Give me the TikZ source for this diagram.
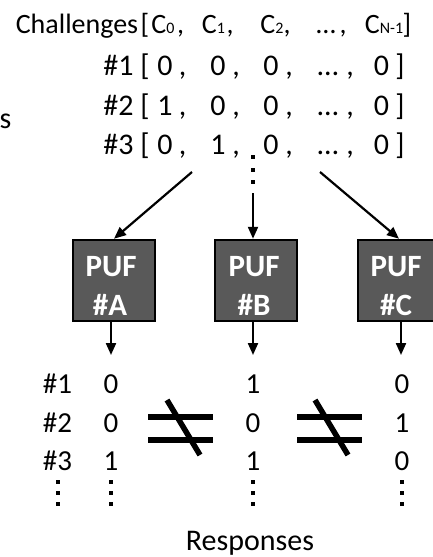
\documentclass[tikz,border=0pt]{standalone}
\usepackage{fontspec}
\setmainfont{Carlito}
\usetikzlibrary{arrows.meta,shapes.misc}
\newcommand{\setfs}[1]{\fontsize{#1}{#1}\selectfont}
\newcommand{\subidx}[1]{{\fontsize{16}{16}\selectfont #1}}
\definecolor{pufgray}{HTML}{595959}
\begin{document}
\begin{tikzpicture}[x=1pt,y=-1pt,
  hdr/.style={anchor=base,inner sep=0pt,font=\setfs{28}},
  chal/.style={anchor=base,inner sep=0pt,font=\setfs{30}},
  resp/.style={anchor=base,inner sep=0pt,font=\setfs{29}},
  pufbox/.style={chamfered rectangle,chamfered rectangle corners=north east,
    chamfered rectangle xsep=14pt,chamfered rectangle ysep=14pt,
    minimum width=82pt,minimum height=81pt,inner sep=0pt,
    draw=black,line width=2.5pt,fill=pufgray},
  puftxt/.style={anchor=base,inner sep=0pt,text=white,font=\bfseries\setfs{31}},
  flow/.style={line width=2.2pt,-{Triangle[length=12pt,width=10pt]}},
  neqbar/.style={line width=6pt},
  dotsq/.style={fill=black,minimum size=4pt,inner sep=0pt,draw=none}]
\useasboundingbox (0,0) rectangle (433,557);
\clip (0,0) rectangle (433,557);

% clipped word at the left edge
\node[anchor=base west,inner sep=0pt,font=\setfs{30}] (lefts) at (-0.5,128) {s};

% header line
\node[hdr] (hChal) at (77,33) {Challenges};
\node[hdr] (hLb) at (145,33) {[};
\node[hdr] (hC0) at (163,33) {C\subidx{0}};
\node[hdr] (hk0) at (180.5,33) {,};
\node[hdr] (hC1) at (213.5,33) {C\subidx{1}};
\node[hdr] (hk1) at (230,33) {,};
\node[hdr] (hC2) at (272,33) {C\subidx{2}};
\node[hdr] (hk2) at (287,33) {,};
\node[hdr] (hEl) at (326,33) {…};
\node[hdr] (hk3) at (343,33) {,};
\node[hdr] (hCN) at (384,33) {C\subidx{N-1}};
\node[hdr] (hRb) at (407,33) {]};

% challenge vectors
\foreach \r/\yb/\a/\b in {1/75/0/0, 2/115/1/0, 3/154/0/1} {
  \node[chal] (row\r lbl) at (118.5,\yb) {\#\r};
  \node[chal] (row\r lb) at (145,\yb) {[};
  \node[chal] (row\r c0) at (165,\yb) {\a};
  \node[chal] (row\r k0) at (182.5,\yb) {,};
  \node[chal] (row\r c1) at (218,\yb) {\b};
  \node[chal] (row\r k1) at (236,\yb) {,};
  \node[chal] (row\r c2) at (271,\yb) {0};
  \node[chal] (row\r k2) at (289,\yb) {,};
  \node[chal] (row\r el) at (328,\yb) {…};
  \node[chal] (row\r k3) at (350,\yb) {,};
  \node[chal] (row\r cn) at (381.5,\yb) {0};
  \node[chal] (row\r rb) at (400,\yb) {]};
}

% vertical ellipsis below the vectors
\foreach \i/\yy in {1/157,2/170,3/182}
  \node[dotsq] (vd\i) at (253,\yy) {};

% PUF instances
\node[pufbox] (pufA) at (114,280.5) {};
\node[pufbox] (pufB) at (256,280.5) {};
\node[pufbox] (pufC) at (399,280.5) {};
\node[puftxt] (pufAt) at (111,276) {PUF};
\node[puftxt] (pufAn) at (110,315) {\#A};
\node[puftxt] (pufBt) at (254,276) {PUF};
\node[puftxt] (pufBn) at (254,315) {\#B};
\node[puftxt] (pufCt) at (396,276) {PUF};
\node[puftxt] (pufCn) at (396,315) {\#C};

% challenges fed to each PUF
\coordinate (srcL) at (192,172);
\coordinate (srcM) at (253,193);
\coordinate (srcR) at (320,172);
\draw[flow] (srcL) -- (pufA.north);
\draw[flow] (srcM) -- (srcM |- pufB.north);
\draw[flow] (srcR) -- (pufC.north);

% responses out of each PUF
\coordinate (outA) at (111,355);
\coordinate (outB) at (253,355);
\coordinate (outC) at (401,355);
\draw[flow] (outA |- pufA.south) -- (outA);
\draw[flow] (outB |- pufB.south) -- (outB);
\draw[flow] (outC |- pufC.south) -- (outC);

% response table
\foreach \r/\yb/\a/\b/\c in {1/393/0/1/0, 2/432/0/0/1, 3/470/1/1/0} {
  \node[resp] (rl\r) at (57.5,\yb) {\#\r};
  \node[resp] (ra\r) at (111,\yb) {\a};
  \node[resp] (rb\r) at (253,\yb) {\b};
  \node[resp] (rc\r) at (402,\yb) {\c};
}
\foreach \xx/\cn in {58/l,111/a,253/b,402/c}
  \foreach \i/\yy in {1/482,2/493,3/504}
    \node[dotsq] (rd\cn\i) at (\xx,\yy) {};

% not-equal signs between the response columns
\draw[neqbar] (148,417) -- (213,417);
\draw[neqbar] (148,439.5) -- (213,439.5);
\draw[line width=5.5pt] (167,400) -- (200,455);
\draw[neqbar] (297,417) -- (362,417);
\draw[neqbar] (297,439.5) -- (362,439.5);
\draw[line width=5.5pt] (315,400) -- (348,455);

\node[anchor=base,inner sep=0pt,font=\setfs{30}] (respLbl) at (250,550) {Responses};
\end{tikzpicture}
\end{document}
